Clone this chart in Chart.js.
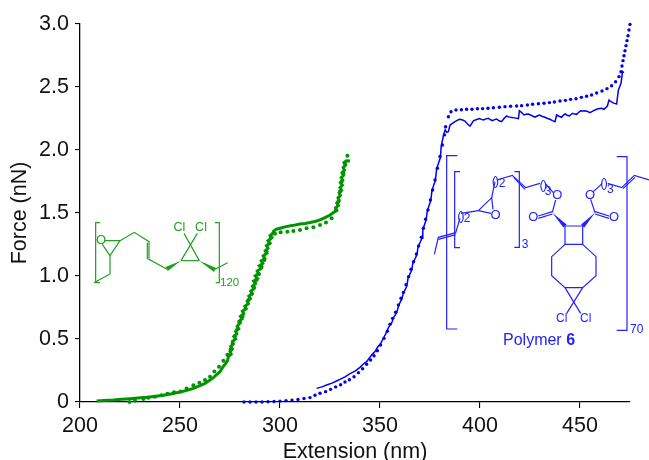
<!DOCTYPE html>
<html>
<head>
    <title>Force vs Extension</title>
    <script src="https://cdn.jsdelivr.net/npm/chart.js"></script>
    <style>
        html, body { margin: 0; background: #fff; }
        canvas { display: block; }
    </style>
</head>
<body>
    <canvas id="forceChart" width="649" height="460"></canvas>

    <script>
        const xTicks = [200, 250, 300, 350, 400, 450];
        const yTicks = [0, 0.5, 1.0, 1.5, 2.0, 2.5, 3.0];

        const greenFitX = [224.7, 227.5, 231.7, 234.2, 237.5, 240.8, 243.7, 247, 250.3, 253.3, 256.7, 259.7, 262.5, 265, 267.2, 269.5, 271.7, 273.7, 275.3, 276.3, 277.5, 278.7, 280, 281.3, 282.8, 284.2, 285.8, 287, 288.3, 289.5, 290.8, 292.2, 293.3, 294.7, 295.8, 297.5, 300.3, 303.7, 306.7, 310, 313.3, 316.7, 320, 323, 325.8, 328, 329.2, 330, 330.8, 331.7, 332.5, 333.7];
        const greenFitY = [0, 0.01, 0.024, 0.034, 0.042, 0.053, 0.066, 0.077, 0.084, 0.108, 0.132, 0.153, 0.174, 0.201, 0.243, 0.28, 0.328, 0.375, 0.418, 0.465, 0.524, 0.577, 0.63, 0.677, 0.743, 0.809, 0.857, 0.91, 0.968, 1.016, 1.074, 1.127, 1.193, 1.259, 1.307, 1.335, 1.347, 1.352, 1.357, 1.365, 1.378, 1.387, 1.405, 1.424, 1.458, 1.524, 1.59, 1.67, 1.749, 1.815, 1.894, 1.955];

        const greenDataX = [208.3, 212, 216.7, 221, 225, 229, 233.3, 237, 241.7, 246, 250, 253, 256.7, 260, 262.5, 265, 266.7, 268.5, 270, 271.5, 272.6, 273.8, 274.2, 275.6, 275, 276.2, 275.4, 276.6, 276.2, 277.8, 276.9, 278.4, 277.8, 279.4, 278.6, 279.6, 279.4, 281, 280.2, 281.9, 281.2, 283, 282.4, 284.2, 283.6, 285.2, 284.4, 286.2, 285.4, 287, 286.2, 287.8, 286.8, 288.8, 287.6, 289.2, 288.6, 290.6, 289.6, 291.4, 290.6, 292.4, 291.6, 293.4, 292.6, 294, 293.2, 295, 294, 295.6, 295, 296.4, 296.8, 298, 300, 303, 306.7, 310, 312.5, 315, 317.5, 320, 322.5, 325, 327.5, 328.4, 327.8, 329.2, 328.4, 329.6, 329, 330.2, 329.6, 330.8, 330, 331.2, 330.2, 331.4, 330.6, 331.8, 331, 332.2, 331.6, 332.8, 332, 333.2, 335];
        const greenDataY = [0.008, 0.012, 0.016, 0.022, 0.026, 0.031, 0.037, 0.044, 0.053, 0.066, 0.079, 0.09, 0.108, 0.13, 0.148, 0.175, 0.193, 0.22, 0.24, 0.28, 0.3, 0.33, 0.36, 0.38, 0.4, 0.42, 0.44, 0.46, 0.48, 0.5, 0.52, 0.54, 0.56, 0.58, 0.6, 0.62, 0.64, 0.66, 0.68, 0.7, 0.72, 0.74, 0.76, 0.78, 0.8, 0.82, 0.84, 0.86, 0.88, 0.9, 0.92, 0.94, 0.96, 0.98, 1, 1.02, 1.04, 1.06, 1.08, 1.1, 1.12, 1.14, 1.16, 1.18, 1.2, 1.22, 1.24, 1.26, 1.28, 1.3, 1.32, 1.34, 1.355, 1.37, 1.379, 1.392, 1.402, 1.413, 1.417, 1.424, 1.433, 1.445, 1.463, 1.484, 1.511, 1.52, 1.54, 1.56, 1.58, 1.6, 1.62, 1.64, 1.66, 1.68, 1.7, 1.72, 1.74, 1.76, 1.78, 1.8, 1.82, 1.84, 1.86, 1.88, 1.9, 1.915, 1.912];

        const blueFitX = [282, 285, 288, 291, 294, 297, 300, 303, 306, 309, 312, 315, 317.5, 320, 322.8, 325.3, 327.8, 330.3, 332.5, 334.7, 337, 339.2, 341.3, 343.3, 345.3, 347, 348.7, 350.3, 352, 353.7, 355, 356.3, 357.8, 359.2, 360.5, 361.7, 363, 364.3, 365.5, 366.8, 368.2, 369.3, 370.7, 371.7, 372.8, 374, 375.2, 376.3, 377.5, 378.7, 380, 381.2, 382.2, 382.8, 384.2, 385.5, 388, 390.7, 393.3, 396, 398.7, 401.3, 404, 406.7, 409.7, 412.5, 415.3, 418.3, 420.8, 423.7, 426.3, 429.2, 432, 434.7, 437.2, 440, 442.7, 445.3, 448, 450.7, 453.3, 455.8, 458.3, 461, 463.5, 465.8, 467.8, 469.5, 470.5, 471, 471.5, 472, 472.5, 473, 473.5, 474, 474.5, 475];
        const blueFitY = [0, 0, 0, 0, 0.002, 0.004, 0.007, 0.011, 0.015, 0.02, 0.028, 0.035, 0.053, 0.069, 0.082, 0.1, 0.12, 0.137, 0.159, 0.177, 0.2, 0.233, 0.264, 0.3, 0.333, 0.367, 0.407, 0.452, 0.505, 0.561, 0.617, 0.664, 0.712, 0.77, 0.823, 0.87, 0.93, 0.994, 1.053, 1.113, 1.175, 1.238, 1.307, 1.379, 1.45, 1.524, 1.603, 1.683, 1.762, 1.855, 1.948, 2.04, 2.12, 2.185, 2.264, 2.304, 2.317, 2.32, 2.323, 2.324, 2.327, 2.328, 2.331, 2.335, 2.339, 2.344, 2.347, 2.349, 2.352, 2.357, 2.363, 2.367, 2.371, 2.376, 2.381, 2.389, 2.394, 2.402, 2.407, 2.418, 2.426, 2.437, 2.452, 2.468, 2.487, 2.51, 2.542, 2.582, 2.621, 2.667, 2.709, 2.748, 2.788, 2.828, 2.868, 2.907, 2.952, 2.997];

        const blueDataX = [318.3, 321, 323.3, 326, 328, 330, 332.5, 335, 337.5, 340, 341.5, 343.3, 344.5, 346.2, 347.5, 349, 350.2, 351.8, 353, 354.2, 355.8, 356.8, 358.4, 359.4, 361, 361.6, 363.4, 364, 365.9, 366.4, 368.5, 369, 371, 371.4, 373, 373.7, 375.4, 376, 377.7, 378.3, 380.2, 380.6, 381.8, 382.6, 383.4, 384.2, 385, 386.2, 387.5, 388.6, 389.7, 391, 392.5, 393.6, 395, 396.7, 398, 399.7, 400.7, 401.7, 403, 404.2, 405.3, 406.3, 407.3, 408.3, 409.6, 410.8, 412, 413.3, 414.3, 415.3, 417.2, 419.2, 419.7, 421, 422, 423, 424.2, 426, 427.5, 428.6, 429.7, 431, 432.5, 433.8, 435, 436.2, 437.5, 438.3, 439.5, 440.8, 441.6, 442.5, 443.6, 444.7, 445.5, 446.3, 447.3, 448.3, 449.3, 450.3, 451.4, 452.5, 453.8, 455, 456.6, 458.3, 459.6, 460.8, 462, 463.7, 464.5, 465.4, 466.3, 467.3, 468.3, 469.2, 470.5, 471.3, 472];
        const blueDataY = [0.108, 0.12, 0.135, 0.15, 0.165, 0.18, 0.2, 0.225, 0.245, 0.275, 0.3, 0.32, 0.345, 0.38, 0.4, 0.44, 0.46, 0.51, 0.545, 0.59, 0.625, 0.67, 0.71, 0.77, 0.82, 0.86, 0.92, 0.98, 1.05, 1.1, 1.17, 1.23, 1.3, 1.37, 1.44, 1.52, 1.6, 1.68, 1.76, 1.85, 1.94, 2.03, 2.12, 2.16, 2.14, 2.145, 2.198, 2.212, 2.225, 2.235, 2.244, 2.24, 2.23, 2.208, 2.19, 2.232, 2.24, 2.25, 2.243, 2.238, 2.247, 2.252, 2.24, 2.233, 2.241, 2.246, 2.232, 2.225, 2.25, 2.27, 2.263, 2.26, 2.255, 2.249, 2.312, 2.295, 2.278, 2.283, 2.286, 2.272, 2.26, 2.27, 2.278, 2.268, 2.26, 2.25, 2.244, 2.233, 2.225, 2.278, 2.268, 2.26, 2.275, 2.286, 2.276, 2.27, 2.282, 2.291, 2.285, 2.283, 2.298, 2.312, 2.309, 2.312, 2.305, 2.297, 2.31, 2.323, 2.329, 2.331, 2.323, 2.349, 2.397, 2.385, 2.376, 2.37, 2.365, 2.476, 2.529, 2.622, 2.614];

        const GREEN = '#009400';
        const BLUE = '#0000ee';
        const GREEN_MOL = '#1f9f1f';
        const BLUE_MOL = '#2222ff';

        function toPoints(xs, ys) {
            return xs.map((x, i) => ({ x: x, y: ys[i] }));
        }

        // structure drawings, in 3x zoomed units from an origin (ox, oy)
        const greenMol = {
            ox: 80, oy: 200, color: GREEN_MOL,
            lines: [
                [[60, 68], [47, 68], [47, 248], [60, 248]],
                [[405, 68], [418, 68], [418, 248], [407, 248]],
                [[75, 122], [120, 122], [90, 167], [67, 133]],
                [[90, 167], [90, 222], [42, 248]],
                [[120, 122], [163, 97], [207, 125], [207, 178], [260, 207]],
                [[202, 128], [202, 178]],
                [[303, 182], [358, 182]],
                [[303, 182], [352, 100]],
                [[358, 182], [312, 100]],
                [[405, 208], [443, 188]]
            ],
            wedges: [
                [[303, 182], [260, 207]],
                [[358, 182], [405, 210]]
            ],
            labels: [
                ['O', 63, 122, 13], ['Cl', 298, 82, 12.5], ['Cl', 363, 82, 12.5], ['120', 449, 248, 11.5]
            ]
        };

        const blueMol = {
            ox: 425, oy: 150, color: BLUE_MOL,
            lines: [
                [[97, 17], [65, 17], [65, 537], [97, 537]],
                [[105, 65], [89, 65], [89, 293], [105, 293]],
                [[575, 20], [606, 20], [606, 541], [575, 541]],
                [[268, 65], [283, 65], [283, 292], [268, 292]],
                [[28, 313], [40, 262], [92, 248], [105, 205]],
                [[40, 268], [92, 254]],
                [[108, 190], [160, 182], [200, 143], [204, 178]],
                [[160, 182], [198, 190]],
                [[200, 143], [210, 95]],
                [[215, 90], [262, 76], [302, 113], [345, 100]],
                [[266, 82], [300, 118]],
                [[362, 102], [385, 128]],
                [[392, 150], [382, 187]],
                [[382, 185], [340, 198]],
                [[382, 192], [340, 205]],
                [[420, 228], [473, 228], [473, 283], [420, 283], [420, 228]],
                [[510, 188], [497, 148]],
                [[510, 185], [552, 198]],
                [[510, 192], [552, 205]],
                [[505, 125], [532, 100]],
                [[548, 100], [590, 113], [628, 76], [672, 90]],
                [[594, 116], [630, 82]],
                [[420, 283], [380, 320], [380, 377], [420, 413], [473, 413], [513, 377], [513, 320], [473, 283]],
                [[420, 413], [467, 490]],
                [[473, 413], [425, 490]]
            ],
            wedges: [
                [[382, 188], [420, 228]],
                [[510, 188], [473, 228]]
            ],
            labels: [
                ['(', 103, 200, 13], [')', 112, 200, 13], ['2', 126, 206, 12],
                ['(', 207, 95, 13], [')', 216, 95, 13], ['2', 231, 100, 12],
                ['(', 350, 105, 13], [')', 360, 105, 13], ['3', 369, 125, 12],
                ['(', 532, 100, 13], [')', 542, 100, 13], ['3', 556, 118, 12],
                ['O', 397, 137, 13], ['O', 325, 202, 13], ['O', 495, 135, 13], ['O', 567, 202, 13], ['O', 212, 195, 13],
                ['Cl', 410, 505, 12], ['Cl', 482, 505, 12],
                ['3', 300, 285, 12], ['70', 635, 538, 12]
            ]
        };

        const moleculePlugin = {
            id: 'molecules',
            afterDraw(chart) {
                const ctx = chart.ctx;
                [greenMol, blueMol].forEach(mol => {
                    const px = p => [mol.ox + p[0] / 3, mol.oy + p[1] / 3];
                    ctx.save();
                    ctx.strokeStyle = mol.color;
                    ctx.fillStyle = mol.color;
                    ctx.lineWidth = 1.2;
                    mol.lines.forEach(line => {
                        ctx.beginPath();
                        line.forEach((p, i) => {
                            const q = px(p);
                            if (i === 0) ctx.moveTo(q[0], q[1]);
                            else ctx.lineTo(q[0], q[1]);
                        });
                        ctx.stroke();
                    });
                    mol.wedges.forEach(w => {
                        const a = px(w[0]), b = px(w[1]);
                        const dx = b[0] - a[0], dy = b[1] - a[1];
                        const len = Math.hypot(dx, dy);
                        const nx = -dy / len * 2.2, ny = dx / len * 2.2;
                        ctx.beginPath();
                        ctx.moveTo(a[0], a[1]);
                        ctx.lineTo(b[0] + nx, b[1] + ny);
                        ctx.lineTo(b[0] - nx, b[1] - ny);
                        ctx.closePath();
                        ctx.fill();
                    });
                    ctx.textAlign = 'center';
                    ctx.textBaseline = 'middle';
                    mol.labels.forEach(l => {
                        const q = px([l[1], l[2]]);
                        ctx.font = l[3] + 'px "Liberation Sans"';
                        ctx.fillText(l[0], q[0], q[1]);
                    });
                    ctx.restore();
                });

                // caption under the blue structure, bold numeral
                ctx.save();
                ctx.fillStyle = BLUE_MOL;
                ctx.textBaseline = 'middle';
                ctx.textAlign = 'left';
                ctx.font = '16px "Liberation Sans"';
                ctx.fillText('Polymer ', 503, 341);
                const w = ctx.measureText('Polymer ').width;
                ctx.font = 'bold 16px "Liberation Sans"';
                ctx.fillText('6', 503 + w, 341);
                ctx.restore();
            }
        };

        const axisFont = { family: '"Liberation Sans"', size: 21.5 };

        new Chart(document.getElementById('forceChart').getContext('2d'), {
            type: 'scatter',
            data: {
                datasets: [
                    { label: 'Green fit', data: toPoints(greenFitX, greenFitY), showLine: false, clip: false, pointRadius: 2, pointBackgroundColor: GREEN, pointBorderWidth: 0 },
                    { label: 'Green data', data: toPoints(greenDataX, greenDataY), showLine: true, clip: false, borderColor: GREEN, borderWidth: 3, pointRadius: 0 },
                    { label: 'Blue fit', data: toPoints(blueFitX, blueFitY), showLine: false, clip: false, pointRadius: 1.7, pointBackgroundColor: BLUE, pointBorderWidth: 0 },
                    { label: 'Blue data', data: toPoints(blueDataX, blueDataY), showLine: true, clip: false, borderColor: BLUE, borderWidth: 1.5, pointRadius: 0 }
                ]
            },
            options: {
                responsive: false,
                animation: false,
                layout: { padding: { top: 24, right: 19, left: 0, bottom: 0 } },
                plugins: { legend: { display: false }, tooltip: { enabled: false } },
                scales: {
                    x: {
                        type: 'linear',
                        min: 200,
                        max: 475,
                        afterFit(scale) { scale.height = 58; },
                        afterBuildTicks(scale) { scale.ticks = xTicks.map(v => ({ value: v })); },
                        border: { color: '#000', width: 1.3 },
                        grid: { drawOnChartArea: false, color: '#000', lineWidth: 1.1, tickLength: 6 },
                        ticks: { font: axisFont, color: '#111', padding: 5, maxRotation: 0, callback: v => String(v) },
                        title: { display: true, text: 'Extension (nm)', font: { family: '"Liberation Sans"', size: 21.5, lineHeight: 0.7 }, color: '#111', padding: 0 }
                    },
                    y: {
                        min: 0,
                        max: 3,
                        afterFit(scale) { scale.width = 80; },
                        afterBuildTicks(scale) { scale.ticks = yTicks.map(v => ({ value: v })); },
                        border: { color: '#000', width: 1.3 },
                        grid: { drawOnChartArea: false, color: '#000', lineWidth: 1.1, tickLength: 5 },
                        ticks: { font: axisFont, color: '#111', padding: 6, callback: v => v === 0 ? '0' : v.toFixed(1) },
                        title: { display: true, text: 'Force (nN)', font: { family: '"Liberation Sans"', size: 21.5 }, color: '#111', padding: { top: 7, bottom: 0 } }
                    }
                }
            },
            plugins: [moleculePlugin]
        });
    </script>
</body>
</html>
